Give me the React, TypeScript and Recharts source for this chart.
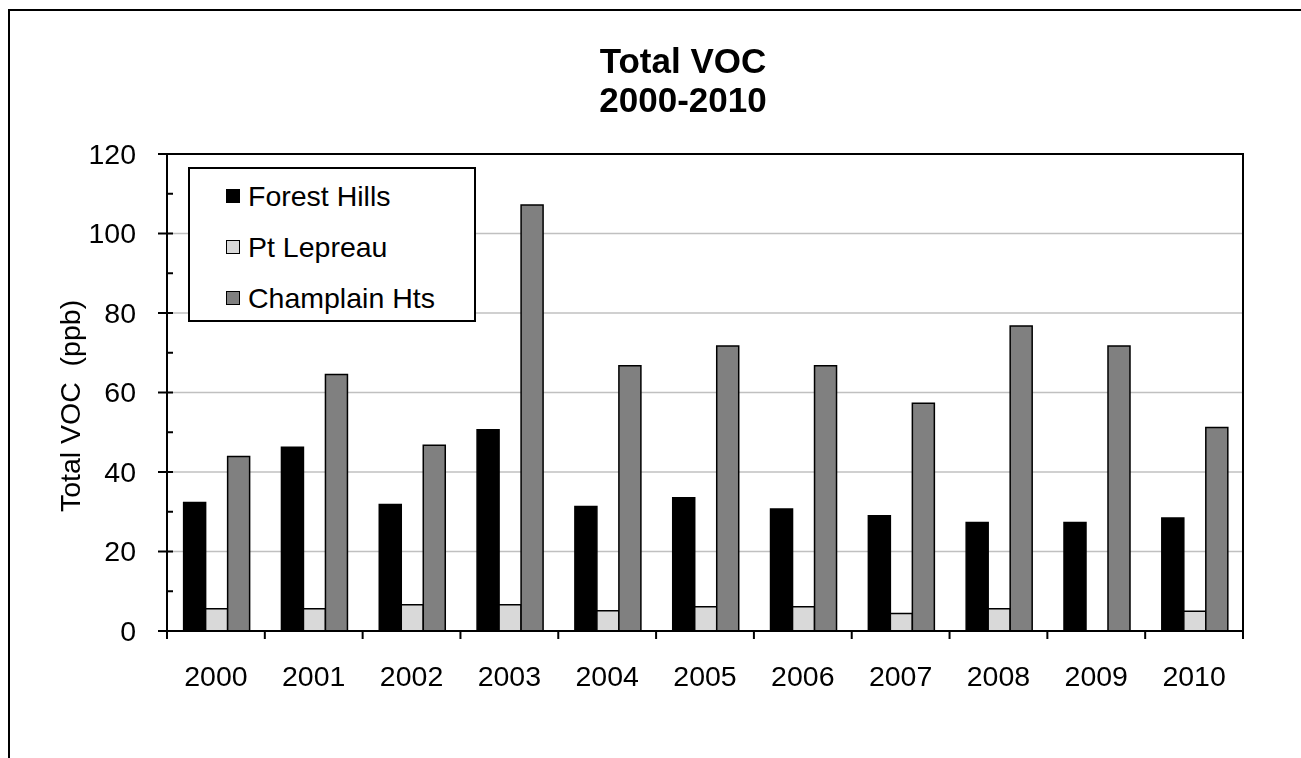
import React from 'react';
import {
  BarChart,
  Bar,
  XAxis,
  YAxis,
  CartesianGrid,
  Legend,
  ReferenceArea,
} from 'recharts';

const years = ['2000', '2001', '2002', '2003', '2004', '2005', '2006', '2007', '2008', '2009', '2010'];
const forestHills = [32.3, 46.2, 31.8, 50.6, 31.3, 33.5, 30.7, 29.0, 27.3, 27.3, 28.4];
const ptLepreau = [5.6, 5.6, 6.6, 6.6, 5.1, 6.1, 6.1, 4.4, 5.6, null, 5.0];
const champlainHts = [43.9, 64.5, 46.7, 107.2, 66.7, 71.7, 66.7, 57.3, 76.7, 71.7, 51.2];

const seriesNames = ['Forest Hills', 'Pt Lepreau', 'Champlain Hts'];
const seriesColors = ['#000000', '#d9d9d9', '#808080'];

const yMajorTicks = [0, 20, 40, 60, 80, 100, 120];
const yMinorTicks = [10, 30, 50, 70, 90, 110];
const gridValues = [20, 40, 60, 80, 100];

const FONT = '"Liberation Sans", Arial, sans-serif';
const FS = 28.5;
const W = 1285;
const H = 742;
const MARGIN = { top: 146, right: 50, bottom: 59, left: 99 };
const Y_AXIS_W = 60;
const X_AXIS_H = 60;
// width of one category band, used only to place the between-category ticks
const BAND = (W - MARGIN.left - Y_AXIS_W - MARGIN.right) / years.length;

const data = years.map((year, i) => ({
  year,
  forestHills: forestHills[i],
  ptLepreau: ptLepreau[i],
  champlainHts: champlainHts[i],
}));

const YTick = (props: any) => {
  const { x, y, payload } = props;
  const major = payload.value % 20 === 0;
  if (!major) {
    return <line x1={x} x2={x + 6} y1={y} y2={y} stroke="#000" strokeWidth={2} />;
  }
  return (
    <g>
      <line x1={x - 9} x2={x + 6} y1={y} y2={y} stroke="#000" strokeWidth={2} />
      <text x={x - 31} y={y} dy="0.35em" textAnchor="end" fontSize={FS} fontFamily={FONT} fill="#000">
        {payload.value}
      </text>
    </g>
  );
};

const XTick = (props: any) => {
  const { x, y, payload, index } = props;
  const left = x - BAND / 2;
  const right = x + BAND / 2;
  return (
    <g>
      <line x1={left} x2={left} y1={y} y2={y + 8} stroke="#000" strokeWidth={2} />
      {index === years.length - 1 && (
        <line x1={right} x2={right} y1={y} y2={y + 8} stroke="#000" strokeWidth={2} />
      )}
      <text x={x} y={y + 55} textAnchor="middle" fontSize={FS} fontFamily={FONT} fill="#000">
        {payload.value}
      </text>
    </g>
  );
};

// legend drawn in series order (recharts would sort it by name)
const LegendBox = () => (
  <div
    style={{
      width: 288,
      height: 155,
      boxSizing: 'border-box',
      border: '2px solid #000',
      background: '#fff',
      paddingTop: 1,
      fontFamily: FONT,
      fontSize: FS,
      color: '#000',
    }}
  >
    {seriesNames.map((name, i) => (
      <div key={name} style={{ display: 'flex', alignItems: 'center', height: 51 }}>
        <span
          style={{
            display: 'inline-block',
            width: 14,
            height: 14,
            boxSizing: 'border-box',
            border: '1.5px solid #000',
            background: seriesColors[i],
            marginLeft: 36,
            marginRight: 8,
          }}
        />
        <span style={{ lineHeight: '30px', whiteSpace: 'nowrap' }}>{name}</span>
      </div>
    ))}
  </div>
);

export default function App() {
  return (
    <div style={{ position: 'relative', width: W, height: H, overflow: 'hidden', fontFamily: FONT }}>
      {/* chart area border, runs off the right and bottom of the picture */}
      <div
        style={{
          position: 'fixed',
          left: 8,
          top: 9,
          width: 2000,
          height: 2000,
          border: '2px solid #000',
        }}
      />
      <BarChart
        width={W}
        height={H}
        data={data}
        margin={MARGIN}
        barCategoryGap="17%"
        barGap={0}
      >
        <CartesianGrid
          vertical={false}
          horizontalValues={gridValues}
          stroke="#c0c0c0"
          strokeWidth={1.5}
        />
        <XAxis
          dataKey="year"
          interval={0}
          height={X_AXIS_H}
          tickSize={0}
          tickMargin={0}
          tickLine={false}
          axisLine={{ stroke: '#000', strokeWidth: 2 }}
          tick={<XTick />}
        />
        <YAxis
          domain={[0, 120]}
          ticks={[...yMajorTicks, ...yMinorTicks].sort((a, b) => a - b)}
          interval={0}
          width={Y_AXIS_W}
          tickSize={0}
          tickMargin={0}
          tickLine={false}
          axisLine={{ stroke: '#000', strokeWidth: 2 }}
          tick={<YTick />}
        />
        <ReferenceArea y1={0} y2={120} fill="none" stroke="#000" strokeWidth={2} />
        <Bar dataKey="forestHills" name={seriesNames[0]} fill={seriesColors[0]} stroke="#000" strokeWidth={1.5} isAnimationActive={false} />
        <Bar dataKey="ptLepreau" name={seriesNames[1]} fill={seriesColors[1]} stroke="#000" strokeWidth={1.5} isAnimationActive={false} />
        <Bar dataKey="champlainHts" name={seriesNames[2]} fill={seriesColors[2]} stroke="#000" strokeWidth={1.5} isAnimationActive={false} />
        <Legend
          layout="vertical"
          align="center"
          verticalAlign="middle"
          content={<LegendBox />}
          wrapperStyle={{ left: 180, top: 159, width: 288, height: 155 }}
        />
      </BarChart>
      <svg
        width={W}
        height={H}
        style={{ position: 'absolute', left: 0, top: 0, pointerEvents: 'none' }}
      >
        <text x={675} y={65} textAnchor="middle" fontSize={35} fontWeight="bold" fontFamily={FONT} fill="#000">
          Total VOC
        </text>
        <text x={675} y={104} textAnchor="middle" fontSize={35} fontWeight="bold" fontFamily={FONT} fill="#000">
          2000-2010
        </text>
        <text
          transform="translate(72,398) rotate(-90)"
          textAnchor="middle"
          fontSize={FS}
          fontFamily={FONT}
          fill="#000"
          style={{ whiteSpace: 'pre' }}
        >
          {'Total VOC  (ppb)'}
        </text>
      </svg>
    </div>
  );
}
